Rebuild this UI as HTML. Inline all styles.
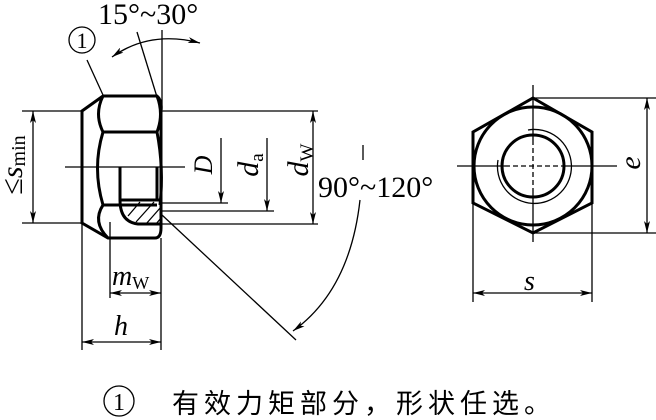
<!DOCTYPE html>
<html><head><meta charset="utf-8"><style>
html,body{margin:0;padding:0;background:#fff;}
svg{display:block;}
.s{font-family:"Liberation Serif","Times New Roman","DejaVu Serif",serif;fill:#000;}
</style></head><body>
<svg width="656" height="420" viewBox="0 0 656 420" xmlns="http://www.w3.org/2000/svg">
<defs>
<marker id="a" viewBox="0 0 12 6" refX="12" refY="3" markerWidth="12" markerHeight="6" orient="auto-start-reverse" markerUnits="userSpaceOnUse"><path d="M0,0 L12,3 L0,6 L3,3 z" fill="#000"/></marker>
</defs>
<g fill="none" stroke="#000" stroke-width="1.3">
<g stroke-width="3">
<path d="M82,111 L103,96 H157 Q162,100 161,110 V228 Q161,238 155,238 H108 L82,223 Z"/>
<path d="M103,96 Q94,114 103,132 H157 Q164,114 157,96"/>
<path d="M103,132 Q92,168 103,205 H157"/>
<path d="M157,132 Q164,168 160,205"/>
<path d="M103,205 Q92,222 108,238"/>
<path d="M120,167 V200 M157,167 V200 M120,200 H161"/>
<path d="M120,200 Q120,222 138,224 H161"/>
</g>
<path d="M128,216 L140,202 M136,222 L154,202 M146,224 L161,207 M156,224 L161,218"/>
<path d="M65,167 H185"/>
<path d="M110,222 V298"/>
<path d="M22,111 H82 M22,223 H82"/>
<path d="M33,111 V223" marker-start="url(#a)" marker-end="url(#a)"/>
<path d="M82,223 V350 M161,238 V350"/>
<path d="M82,342 H161" marker-start="url(#a)" marker-end="url(#a)"/>
<path d="M110,293 H161" marker-start="url(#a)" marker-end="url(#a)"/>
<path d="M157,97 L137,32"/>
<path d="M162,30 V110"/>
<path d="M112,57 Q150,30 200,43" marker-start="url(#a)" marker-end="url(#a)"/>
<path d="M87,60 L103,95"/>
<path d="M162,111 H318 M162,224 H318"/>
<path d="M313,111 V224" marker-start="url(#a)" marker-end="url(#a)"/>
<path d="M162,203 H228"/>
<path d="M221,138 V203" marker-end="url(#a)"/>
<path d="M162,211 H274"/>
<path d="M267,138 V211" marker-end="url(#a)"/>
<path d="M162,215 L296,340"/>
<path d="M360,200 Q350,290 293,331" marker-end="url(#a)"/>
<path d="M363,145 V160"/>
<g stroke-width="3">
<path d="M533,98 L592,132 V203 L533,233 L473,203 V132 Z"/>
<circle cx="533" cy="166" r="59"/>
<circle cx="533" cy="166" r="31"/>
</g>
<path d="M528,130 A37,37 0 1 1 498,160"/>
<path d="M457,166 H505 M561,166 H617"/>
<path d="M505,166 H561" stroke-dasharray="5,3"/>
<path d="M533,85 V140 M533,192 V242"/>
<path d="M533,140 V192" stroke-dasharray="5,3"/>
<path d="M533,98 H656 M533,233 H656"/>
<path d="M647,98 V233" marker-start="url(#a)" marker-end="url(#a)"/>
<path d="M473,200 V302 M592,200 V302"/>
<path d="M473,293 H592" marker-start="url(#a)" marker-end="url(#a)"/>
<circle cx="82" cy="40" r="13"/>
<circle cx="119" cy="401" r="15"/>
</g>
<g class="s">
<text class="s" x="82" y="48" font-size="22" text-anchor="middle">1</text>
<text class="s" x="119" y="410" font-size="24" text-anchor="middle">1</text>
<text class="s" x="98" y="24" font-size="30">15°~30°</text>
<text class="s" x="318" y="197" font-size="30">90°~120°</text>
<text class="s" x="112" y="285" font-size="28" font-style="italic">m<tspan font-size="18" font-style="normal" dy="4">W</tspan></text>
<text class="s" x="114" y="335" font-size="28" font-style="italic">h</text>
<text class="s" x="524" y="290" font-size="28" font-style="italic">s</text>
<text class="s" transform="translate(640,163) rotate(-90)" font-size="30" font-style="italic" text-anchor="middle">e</text>
<text class="s" transform="translate(212,165) rotate(-90)" font-size="26" font-style="italic" text-anchor="middle">D</text>
<text class="s" transform="translate(258,165) rotate(-90)" font-size="30" font-style="italic" text-anchor="middle">d<tspan font-size="19" font-style="normal" dy="5">a</tspan></text>
<text class="s" transform="translate(308,160) rotate(-90)" font-size="30" font-style="italic" text-anchor="middle">d<tspan font-size="19" font-style="normal" dy="5">W</tspan></text>
<text class="s" transform="translate(22,165) rotate(-90)" font-size="30" text-anchor="middle">≤<tspan font-style="italic">s</tspan><tspan font-size="20" dy="3">min</tspan></text>
</g>
<text x="172" y="413" font-size="27" letter-spacing="5" style="font-family:'Noto Sans CJK SC',sans-serif">有效力矩部分，形状任选。</text>
</svg>
</body></html>
